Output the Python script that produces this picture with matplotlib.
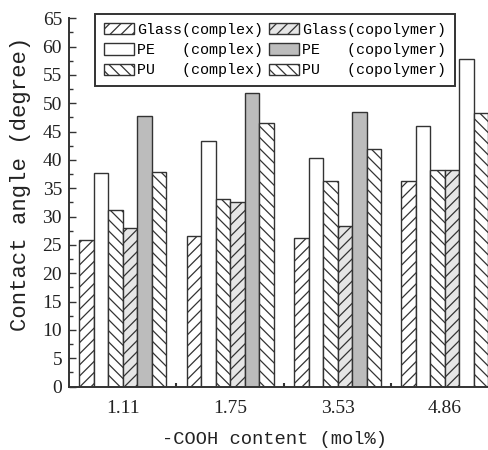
import matplotlib
matplotlib.use("Agg")
import matplotlib.pyplot as plt
import numpy as np
from matplotlib.ticker import MultipleLocator, FixedLocator

# -COOH content (mol%) groups
categories = ["1.11", "1.75", "3.53", "4.86"]

# Contact angle (degree) for each substrate / sample type
glass_complex = [25.9, 26.6, 26.3, 36.3]
pe_complex = [37.7, 43.3, 40.3, 46.0]
pu_complex = [31.2, 33.1, 36.3, 38.2]
glass_copolymer = [28.0, 32.6, 28.3, 38.2]
pe_copolymer = [47.7, 51.8, 48.5, 57.8]
pu_copolymer = [37.9, 46.6, 42.0, 48.2]

series_labels = ["Glass(complex)", "PE   (complex)", "PU   (complex)",
                 "Glass(copolymer)", "PE   (copolymer)", "PU   (copolymer)"]

plt.rcParams["hatch.linewidth"] = 0.9
plt.rcParams["hatch.color"] = "#222222"

fig = plt.figure(figsize=(4.89, 4.50), dpi=100)
ax = fig.add_axes([69 / 489, 1 - 386.5 / 450, 420 / 489, 368.2 / 450])

x = np.arange(len(categories))
w = 0.135
edge = "#333333"

styles = [
    dict(facecolor="white", hatch="///"),
    dict(facecolor="white", hatch=None),
    dict(facecolor="white", hatch="\\\\\\"),
    dict(facecolor="#e6e6e6", hatch="///"),
    dict(facecolor="#bcbcbc", hatch=None),
    dict(facecolor="white", hatch="\\\\\\"),
]
data = [glass_complex, pe_complex, pu_complex,
        glass_copolymer, pe_copolymer, pu_copolymer]

handles = []
for k, (vals, st, lab) in enumerate(zip(data, styles, series_labels)):
    bars = ax.bar(x + (k - 2.5) * w, vals, width=w, facecolor=st["facecolor"],
                  hatch=st["hatch"], edgecolor=edge, linewidth=1.0,
                  label=lab, zorder=2)
    handles.append(bars)

# the last PE copolymer bar prints without its gray fill
handles[4].patches[-1].set_facecolor("white")

ax.set_xlim(-0.5, 3.41)
ax.set_ylim(0, 65)

for s in ["top", "right"]:
    ax.spines[s].set_visible(False)
for s in ["left", "bottom"]:
    ax.spines[s].set_linewidth(1.4)
    ax.spines[s].set_color("#333333")

ax.yaxis.set_major_locator(MultipleLocator(5))
ax.yaxis.set_minor_locator(MultipleLocator(2.5))
ax.tick_params(axis="y", which="major", direction="in", length=5, width=1,
               color="#333333", pad=5)
ax.tick_params(axis="y", which="minor", direction="in", length=3, width=1,
               color="#333333")
ax.set_xticks(x)
ax.set_xticklabels(categories)
ax.xaxis.set_minor_locator(FixedLocator([0.5, 1.5, 2.5]))
ax.tick_params(axis="x", which="major", length=0, pad=10)
ax.tick_params(axis="x", which="minor", direction="in", length=3, width=1.5,
               color="#333333")
for lbl in ax.get_xticklabels() + ax.get_yticklabels():
    lbl.set_fontfamily("Liberation Serif")
    lbl.set_fontsize(14)
    lbl.set_color("#222222")

ax.set_ylabel("Contact angle (degree)", family="Liberation Mono", fontsize=16,
              color="#222222")
ax.yaxis.set_label_coords(-0.09, 0.55)
ax.set_xlabel("-COOH content (mol%)", family="Liberation Mono", fontsize=13.5,
              color="#222222")
ax.xaxis.set_label_coords(0.49, -0.12)

leg = ax.legend(handles=handles, ncol=2, loc="upper left",
                bbox_to_anchor=(0.062, 1.012), borderaxespad=0,
                prop=dict(family="Liberation Mono", size=10.8),
                handlelength=2.0, handleheight=0.8, handletextpad=0.2,
                columnspacing=0.4, labelspacing=0.42, borderpad=0.6,
                fancybox=False, framealpha=1, edgecolor="#333333")
leg.get_frame().set_linewidth(1.4)
leg.set_zorder(5)

fig.savefig("out.png", dpi=100)
